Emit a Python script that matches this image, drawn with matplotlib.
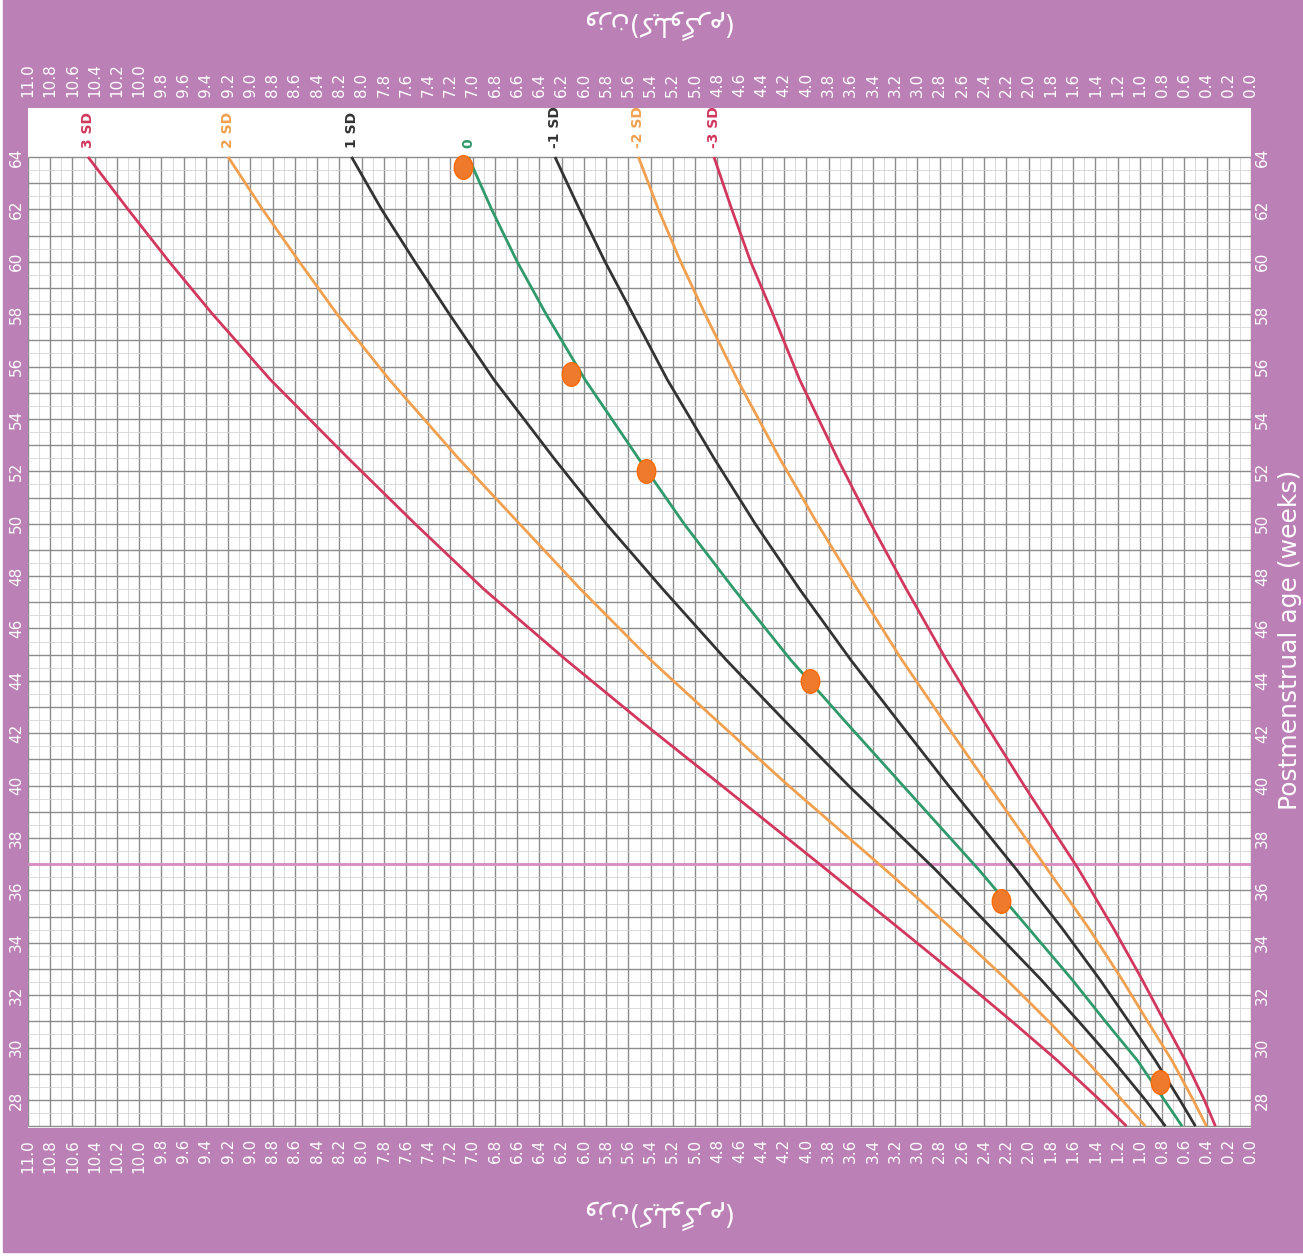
import numpy as np
import matplotlib
matplotlib.use("Agg")
import matplotlib.pyplot as plt
from matplotlib.path import Path
from matplotlib.patches import Rectangle

# postmenstrual age (weeks) where the curves were read
weeks = [27, 28, 29.5, 31, 32.6, 34.5, 36.8, 40, 42.5, 44.8, 47.5, 50, 52.5,
         55.5, 58, 60, 62, 64]

# weight (kg) of each SD curve
sd_p3 = [1.12, 1.36, 1.74, 2.15, 2.60, 3.15, 3.82, 4.76, 5.50, 6.16, 6.90, 7.52,
         8.12, 8.82, 9.34, 9.73, 10.10, 10.46]
sd_p2 = [0.95, 1.16, 1.48, 1.82, 2.20, 2.68, 3.29, 4.16, 4.81, 5.40, 6.03, 6.58,
         7.13, 7.75, 8.22, 8.56, 8.89, 9.20]
sd_p1 = [0.77, 0.95, 1.24, 1.55, 1.89, 2.32, 2.84, 3.62, 4.20, 4.72, 5.29, 5.80,
         6.27, 6.81, 7.21, 7.52, 7.82, 8.09]
sd_0 = [0.62, 0.78, 1.02, 1.31, 1.61, 1.99, 2.45, 3.13, 3.66, 4.14, 4.65, 5.10,
        5.51, 5.99, 6.34, 6.60, 6.83, 7.04]
sd_m1 = [0.50, 0.64, 0.86, 1.10, 1.36, 1.69, 2.11, 2.72, 3.18, 3.60, 4.06, 4.46,
         4.83, 5.25, 5.56, 5.81, 6.04, 6.26]
sd_m2 = [0.40, 0.52, 0.71, 0.93, 1.16, 1.45, 1.83, 2.36, 2.77, 3.14, 3.54, 3.90,
         4.24, 4.62, 4.91, 5.13, 5.33, 5.51]
sd_m3 = [0.32, 0.42, 0.59, 0.78, 0.98, 1.23, 1.55, 2.04, 2.41, 2.74, 3.10, 3.42,
         3.72, 4.06, 4.30, 4.50, 4.67, 4.83]

curve_labels = ["3 SD", "2 SD", "1 SD", "0", "-1 SD", "-2 SD", "-3 SD"]

# measured points of the baby
pt_weeks = [63.6, 55.7, 52.0, 44.0, 35.6, 28.7]
pt_kg = [7.09, 6.12, 5.44, 3.97, 2.25, 0.82]

term_week = 37

kg_ticks = np.round(np.arange(0, 11.01, 0.2), 1)
week_ticks = list(range(28, 65, 2))

purple = "#bb81b7"
red = "#d2375e"
orange = "#f0a04e"
dark = "#333333"
green = "#2f9a6c"
colors = [red, orange, dark, green, dark, orange, red]
series = [sd_p3, sd_p2, sd_p1, sd_0, sd_m1, sd_m2, sd_m3]

fig = plt.figure(figsize=(13.03, 12.59), dpi=100, facecolor="white")
fig.patches.append(Rectangle((3 / 1303, 7 / 1259), 1, 1, transform=fig.transFigure,
                             color=purple, zorder=-10))
ax = fig.add_axes([28 / 1303, 1 - 1128 / 1259, 1223 / 1303, 1020 / 1259])
ax.set_zorder(1)
ax.set_facecolor("white")
ax.set_xlim(11, 0)
ax.set_ylim(26.93, 65.87)
for s in ax.spines.values():
    s.set_visible(False)

# grid, only inside the 27-64 week band
for v in np.arange(0, 11.001, 0.1):
    major = abs(v * 5 - round(v * 5)) < 1e-6
    ax.vlines(v, 27, 64, color="#8c8c8c" if major else "#d4d4d4",
              lw=1.0 if major else 0.6, zorder=1)
for h in np.arange(27, 64.01, 0.5):
    major = abs(h - round(h)) < 1e-6
    ax.hlines(h, 0, 11, color="#8c8c8c" if major else "#d4d4d4",
              lw=1.0 if major else 0.6, zorder=1)

ax.axhline(term_week, color="#d98cc4", lw=2, zorder=2)

for vals, c, lab in zip(series, colors, curve_labels):
    ax.plot(vals, weeks, color=c, lw=2, zorder=3, solid_capstyle="butt",
            solid_joinstyle="round")
    ax.text(vals[-1], 64.35, lab, rotation=90, ha="center", va="bottom",
            color=c, fontsize=10, fontweight="bold")

circ = Path.unit_circle()
oval = Path(circ.vertices * np.array([0.78, 1.0]), circ.codes)
ax.plot(pt_kg, pt_weeks, linestyle="none", marker=oval, markersize=17,
        markerfacecolor="#f07a2c", markeredgecolor="#ff6a00", zorder=4)

ax.set_xticks(kg_ticks)
ax.set_xticklabels([f"{v:.1f}" for v in kg_ticks], rotation=90)
ax.set_yticks(week_ticks)
ax.set_yticklabels([str(w) for w in week_ticks], rotation=90, va="center")
ax.tick_params(axis="x", top=True, bottom=True, labeltop=True, labelbottom=True,
               length=0, pad=8, labelcolor="white", labelsize=11)
ax.tick_params(axis="y", left=True, right=True, labelleft=True, labelright=True,
               length=0, pad=3, labelcolor="white", labelsize=11)

fig.text(1290 / 1303, 1 - 640 / 1259, "Postmenstrual age (weeks)", rotation=90,
         ha="center", va="center", color="white", fontsize=18)

title_fa = "(\uFEE1\uFEAE\uFB94\uFEEE\uFEE0\uFBFE\uFB90)\uFEE5\uFEAF\uFEED"
for ty in (1 - 25 / 1259, 1 - 1215 / 1259):
    fig.text(655 / 1303, ty, title_fa, rotation=180, ha="center", va="center",
             color="white", fontsize=19, family=["DejaVu Sans"])

fig.savefig("out.png", dpi=100, facecolor=fig.get_facecolor())
